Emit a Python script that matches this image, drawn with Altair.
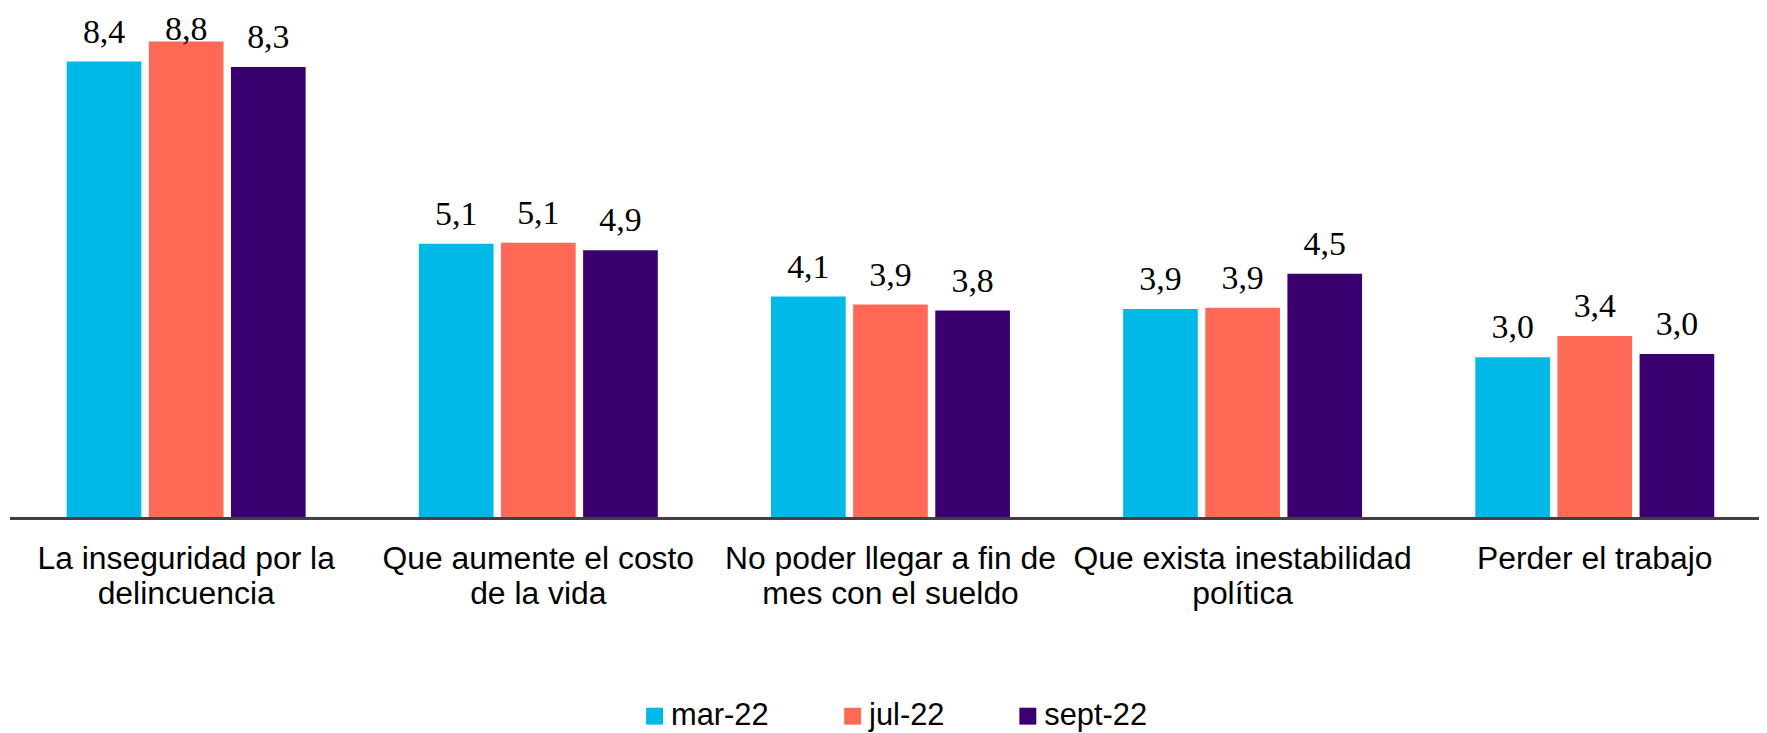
import altair as alt
import pandas as pd

categories = [
    "La inseguridad por la|delincuencia",
    "Que aumente el costo|de la vida",
    "No poder llegar a fin de|mes con el sueldo",
    "Que exista inestabilidad|política",
    "Perder el trabajo",
]
periods = ["mar-22", "jul-22", "sept-22"]
mar22 = [8.42, 5.06, 4.09, 3.86, 2.97]
jul22 = [8.79, 5.08, 3.94, 3.88, 3.36]
sept22 = [8.32, 4.94, 3.83, 4.51, 3.03]
colors = ["#00B9E6", "#FF6955", "#3A0070"]

rows = []
for pname, vals in zip(periods, [mar22, jul22, sept22]):
    for c, v in zip(categories, vals):
        rows.append({"cat": c, "period": pname, "value": v})
df = pd.DataFrame(rows)

W, H = 1757, 511

xenc = alt.X(
    "cat:N",
    sort=categories,
    title=None,
    scale=alt.Scale(range=[0, 1769], paddingInner=0.3215, paddingOuter=0.161),
    axis=alt.Axis(
        labelAngle=0,
        labelExpr="split(datum.value, '|')",
        labelFont="Liberation Sans",
        labelFontSize=32,
        labelColor="black",
        labelLineHeight=36,
        labelPadding=25,
        ticks=False,
        tickSize=0,
        domain=False,
        labelLimit=0,
    ),
)
xoff = alt.XOffset(
    "period:N", sort=periods, scale=alt.Scale(paddingInner=0.0909, paddingOuter=0)
)
yscale = alt.Scale(domain=[0, 9.376], nice=False)

bars = alt.Chart(df).mark_bar().encode(
    x=xenc,
    xOffset=xoff,
    y=alt.Y("value:Q", scale=yscale, axis=None),
    color=alt.Color(
        "period:N",
        sort=periods,
        scale=alt.Scale(domain=periods, range=colors),
        legend=alt.Legend(
            title=None,
            orient="none",
            legendX=632,
            legendY=694,
            direction="horizontal",
            symbolType="square",
            symbolSize=289,
            symbolStrokeWidth=0,
            labelFont="Liberation Sans",
            labelFontSize=31,
            labelColor="black",
            columnPadding=68,
            labelOffset=1,
        ),
    ),
)

labels = (
    alt.Chart(df)
    .transform_calculate(
        ly="min(datum.value, 8.46)",
        lab="replace(format(datum.value, '.1f'), '.', ',')",
    )
    .mark_text(
        font="Liberation Serif",
        fontSize=34,
        dy=-19,
        baseline="alphabetic",
        color="black",
    )
    .encode(
        x=xenc,
        xOffset=xoff,
        y=alt.Y("ly:Q", scale=yscale, axis=None),
        text="lab:N",
    )
)

baseline = alt.Chart(df).mark_rule(color="#404040", strokeWidth=2).encode(
    x=alt.value(0), x2=alt.value(W), y=alt.value(H)
)

chart = (
    alt.layer(bars, labels, baseline)
    .properties(
        width=W,
        height=H,
        autosize=alt.AutoSizeParams(type="none"),
        padding={"left": 2, "top": 0, "right": 0, "bottom": 214},
    )
    .configure_view(stroke=None)
)

chart.save("out.html", embed_options={"renderer": "svg", "actions": False})
